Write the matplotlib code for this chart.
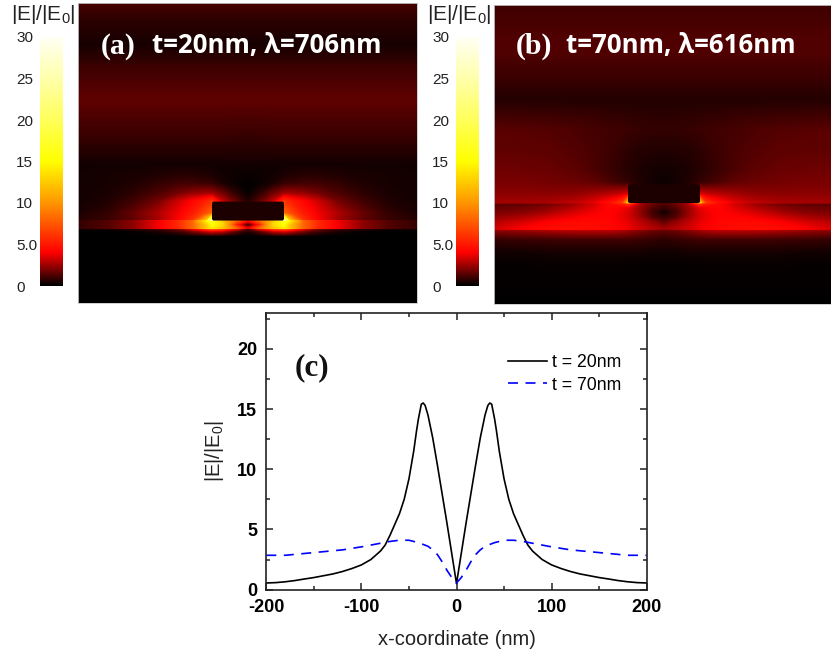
#!/usr/bin/python3
import numpy as np
import matplotlib
matplotlib.use('Agg')
import matplotlib.pyplot as plt
from matplotlib.colors import LinearSegmentedColormap
from matplotlib.patches import FancyBboxPatch

plt.rcParams['font.family'] = ['Liberation Sans', 'DejaVu Sans']
plt.rcParams['mathtext.default'] = 'regular'
plt.rcParams['axes.unicode_minus'] = False

# line cuts, panel (c), left half (the curves are mirrored about x=0)
x_t20 = [-200, -190, -180, -170, -160, -150, -140, -130, -120, -110, -100, -90, -80, -75, -70, -65, -60,
         -55, -50, -45, -42, -40, -37, -35, -33, -30, -25, -20, -15, -10, -5, 0]
E_t20 = [0.55, 0.58, 0.65, 0.75, 0.88, 1.0, 1.15, 1.3, 1.5, 1.75, 2.05, 2.5, 3.2, 3.7, 4.5, 5.4, 6.3,
         7.5, 9.2, 11.5, 13.2, 14.2, 15.4, 15.5, 15.3, 14.5, 12.6, 10.3, 7.9, 5.5, 3.0, 0.5]
x_t70 = [-200, -180, -160, -140, -120, -100, -80, -70, -60, -50, -40, -30, -25, -20, -15, -10, -5, 0]
E_t70 = [2.85, 2.85, 3.0, 3.15, 3.3, 3.55, 3.85, 4.0, 4.1, 4.1, 3.9, 3.6, 3.3, 2.9, 2.3, 1.6, 1.0, 0.55]

# field maps: |x| columns, heights above the substrate, values estimated per cell
map_x = [0, 12, 25, 36, 42, 55, 70, 90, 115, 140, 170]

a_y = [-75, -8, -3, -0.2, 0.2, 3.7, 7.5, 7.9, 15, 27, 35, 45, 53, 64, 99, 129, 159, 184, 209, 226]
a_E = [
    [0, 0, 0, 0, 0, 0, 0, 0, 0, 0, 0],
    [0, 0, 0, 0, 0, 0, 0, 0, 0, 0, 0],
    [0.5, 1.5, 3, 3.5, 3, 2, 1, 0.4, 0.1, 0, 0],
    [1.5, 4, 7, 8, 7, 4, 2, 1.2, 0.7, 0.4, 0.3],
    [3, 8, 12, 14, 12, 8, 5.5, 3.8, 2.2, 1.3, 0.8],
    [0.3, 5, 13, 15, 12, 8, 5.5, 3.8, 2.2, 1.3, 0.8],
    [4, 8, 12, 16, 14, 8, 5.5, 3.8, 2.2, 1.3, 0.8],
    [4, 8, 12, 25, 12, 6, 4, 2.5, 1.5, 0.9, 0.6],
    [0.5, 0.5, 0.5, 8, 7, 5, 3.8, 2.7, 1.6, 0.8, 0.4],
    [0.5, 1.5, 3, 6, 5.2, 4.2, 3.2, 1.8, 1, 0.5, 0.3],
    [0.1, 0.7, 1.7, 2.5, 2.5, 2.3, 1.8, 1.2, 0.7, 0.4, 0.3],
    [0.05, 0.15, 0.4, 0.8, 0.9, 1.0, 1.0, 0.8, 0.5, 0.35, 0.3],
    [0.15, 0.2, 0.3, 0.45, 0.5, 0.6, 0.6, 0.5, 0.4, 0.35, 0.3],
    [0.3, 0.3, 0.3, 0.3, 0.3, 0.3, 0.3, 0.3, 0.3, 0.3, 0.3],
    [0.95, 0.95, 1.0, 1.0, 1.0, 1.0, 1.0, 1.0, 1.0, 1.0, 1.0],
    [1.5, 1.5, 1.5, 1.5, 1.5, 1.5, 1.5, 1.5, 1.5, 1.5, 1.5],
    [1.0, 1.0, 1.0, 1.0, 1.0, 1.0, 1.0, 1.0, 1.0, 1.0, 1.0],
    [0.35, 0.35, 0.35, 0.35, 0.35, 0.35, 0.35, 0.35, 0.35, 0.35, 0.35],
    [0.7, 0.7, 0.7, 0.7, 0.7, 0.7, 0.7, 0.7, 0.7, 0.7, 0.7],
    [1.1, 1.1, 1.1, 1.1, 1.1, 1.1, 1.1, 1.1, 1.1, 1.1, 1.1],
]

b_y = [-75, -35, -22, -10, -0.3, 0.3, 7, 12, 17, 22, 25.8, 26.6, 35, 47, 60, 80, 100, 130, 155, 180, 200, 225]
b_E = [
    [0, 0, 0, 0, 0, 0, 0, 0, 0, 0, 0],
    [0.1, 0.1, 0.1, 0.1, 0.12, 0.12, 0.12, 0.12, 0.12, 0.1, 0.1],
    [0.3, 0.3, 0.35, 0.35, 0.35, 0.35, 0.35, 0.35, 0.35, 0.3, 0.3],
    [0.7, 0.8, 0.9, 1.0, 1.0, 1.0, 1.0, 1.0, 0.95, 0.9, 0.8],
    [1.6, 1.8, 2.2, 2.6, 2.8, 3, 3, 3, 2.8, 2.5, 2.3],
    [2.5, 2.8, 3.3, 3.8, 4, 4.2, 4.4, 4.5, 4.4, 4, 3.3],
    [1.5, 2.3, 3, 3.6, 3.8, 4.2, 4.3, 4.3, 4, 3.4, 2.8],
    [0.8, 1.3, 2.5, 3.4, 3.7, 4.1, 4.1, 3.8, 3.3, 2.7, 2.3],
    [0.1, 1.0, 2.4, 3.4, 3.7, 4.1, 3.8, 3.3, 2.6, 2.1, 1.9],
    [0.8, 1.3, 2.4, 3.6, 3.9, 4.1, 3.5, 2.8, 2.1, 1.7, 1.6],
    [1.2, 1.7, 2.8, 6, 5, 4.3, 3.3, 2.3, 1.7, 1.4, 1.3],
    [1.2, 1.7, 2.8, 12, 6, 4.5, 3.6, 3.0, 2.7, 2.6, 2.6],
    [0.3, 0.5, 1, 3.5, 3.2, 2.9, 2.6, 2.3, 2.2, 2.2, 2.2],
    [0.2, 0.3, 0.5, 0.8, 0.9, 1.2, 1.5, 1.7, 1.8, 1.9, 1.9],
    [0.3, 0.35, 0.45, 0.6, 0.7, 0.9, 1.2, 1.45, 1.65, 1.7, 1.75],
    [0.5, 0.55, 0.6, 0.7, 0.8, 0.95, 1.15, 1.3, 1.45, 1.5, 1.5],
    [0.8, 0.8, 0.85, 0.9, 0.95, 1.0, 1.1, 1.2, 1.3, 1.35, 1.4],
    [0.55, 0.55, 0.55, 0.55, 0.55, 0.55, 0.55, 0.55, 0.55, 0.55, 0.55],
    [0.95, 0.95, 0.95, 0.95, 0.95, 0.95, 0.95, 0.95, 0.95, 0.95, 0.95],
    [1.3, 1.3, 1.3, 1.3, 1.3, 1.3, 1.3, 1.3, 1.3, 1.3, 1.3],
    [1.2, 1.2, 1.2, 1.2, 1.2, 1.2, 1.2, 1.2, 1.2, 1.2, 1.2],
    [1.0, 1.0, 1.0, 1.0, 1.0, 1.0, 1.0, 1.0, 1.0, 1.0, 1.0],
]

cbar_ticks = [0, 5, 10, 15, 20, 25, 30]
cbar_labels = ['0', '5.0', '10', '15', '20', '25', '30']

cmap_vals = [0, 4, 10, 15, 20, 25, 30]
cmap_cols = ['#000000', '#ff0000', '#ff9600', '#ffff00', '#ffff5a', '#ffffaa', '#fffff5']
fire = LinearSegmentedColormap.from_list('fire', [(v / 30, c) for v, c in zip(cmap_vals, cmap_cols)], N=1024)

W, H = 831, 651
fig = plt.figure(figsize=(W / 100, H / 100), dpi=100)


def px_axes(x0, y0, x1, y1):
    return fig.add_axes([x0 / W, 1 - y1 / H, (x1 - x0) / W, (y1 - y0) / H])


def field_panel(rect, cx, ys, E, part_y, label, title, lab_xy, txt_xy):
    ax = px_axes(*rect)
    half = np.array(E, dtype=float)
    full = np.hstack([half[:, :0:-1], half])
    xs = np.concatenate([-np.array(map_x[:0:-1]), map_x])
    levels = np.linspace(0, 30, 1201)
    ax.contourf(xs, ys, full, levels=levels, cmap=fire, vmin=0, vmax=30, extend='both')
    ax.set_xlim(rect[0] - cx, rect[2] - cx)
    ax.set_ylim(ys[0], ys[-1])
    ax.add_patch(FancyBboxPatch((-34, part_y[0] + 2), 68, part_y[1] - part_y[0] - 4,
                                boxstyle='round,pad=2', fc='#1c0000', ec='none'))
    ax.set_xticks([])
    ax.set_yticks([])
    for s in ax.spines.values():
        s.set_color('#c8c8c8')
        s.set_linewidth(0.6)
    fig.text(lab_xy[0] / W, 1 - lab_xy[1] / H, label, color='white', family='Liberation Serif',
             weight='bold', fontsize=21.5, va='center')
    fig.text(txt_xy[0] / W, 1 - txt_xy[1] / H, title, color='white', family='Open Sans',
             weight='bold', fontsize=18.6, va='center')


def colorbar(x0, x1, y0, y1, lx, tx):
    ax = px_axes(x0, y0, x1, y1)
    vals = np.linspace(0, 30, 256).reshape(-1, 1)
    ax.imshow(vals, origin='lower', aspect='auto', cmap=fire, vmin=0, vmax=30, extent=[0, 1, 0, 30])
    ax.set_xticks([])
    ax.set_yticks(cbar_ticks)
    ax.set_yticklabels(cbar_labels, fontsize=11, color='#222222', ha='left')
    ax.tick_params(axis='y', length=0, pad=(x0 - lx) * 0.72)
    for s in ax.spines.values():
        s.set_visible(False)
    fig.text(tx / W, 1 - 15 / H, '|E|/|E$_0$|', fontsize=15, color='#222222', va='center')


field_panel((78, 3, 417, 303), 248, a_y, a_E, (7.7, 26.7), '(a)', 't=20nm, λ=706nm', (101, 46), (152, 46))
field_panel((494, 5, 831, 304), 664, b_y, b_E, (26.3, 45), '(b)', 't=70nm, λ=616nm', (516, 46), (566, 46))
colorbar(40, 63, 37, 286, 16, 11)
colorbar(456, 479, 37, 286, 432, 427)

ax = px_axes(266.3, 312.7, 646.7, 589.6)
x20 = np.array(x_t20)
x70 = np.array(x_t70)
ax.plot(np.concatenate([x20, -x20[-2::-1]]), E_t20 + E_t20[-2::-1], color='k', lw=1.2, label='t = 20nm')
ax.plot(np.concatenate([x70, -x70[-2::-1]]), E_t70 + E_t70[-2::-1], color='#0000ff', lw=1.2,
        dashes=(6, 4.5), label='t = 70nm')
ax.set_xlim(-200, 200)
ax.set_ylim(0, 23)
ax.set_xticks([-200, -100, 0, 100, 200])
ax.set_yticks([0, 5, 10, 15, 20])
ax.set_xticks([-150, -50, 50, 150], minor=True)
ax.set_yticks([2.5, 7.5, 12.5, 17.5, 22.5], minor=True)
ax.tick_params(which='both', direction='in', top=True, right=True, width=1.1, color='#222222')
ax.tick_params(which='major', length=5, labelsize=13, pad=6.5)
ax.tick_params(which='minor', length=3)
for lab in ax.get_xticklabels() + ax.get_yticklabels():
    lab.set_fontweight('bold')
for s in ax.spines.values():
    s.set_linewidth(1.2)
    s.set_color('#222222')
ax.set_xlabel('x-coordinate (nm)', fontsize=14.5, labelpad=10, color='#222222')
ax.set_ylabel('|E|/|E$_0$|', fontsize=14.5, labelpad=8, color='#222222')
ax.legend(loc='upper right', bbox_to_anchor=(0.932, 0.85), frameon=False, fontsize=12.7,
          handlelength=2.2, handletextpad=0.28, labelspacing=0.3, borderpad=0, borderaxespad=0)
fig.text(295 / W, 1 - 368 / H, '(c)', family='Liberation Serif', weight='bold', fontsize=22.5,
         va='center', color='#111111')

fig.savefig('out.png', dpi=100)
